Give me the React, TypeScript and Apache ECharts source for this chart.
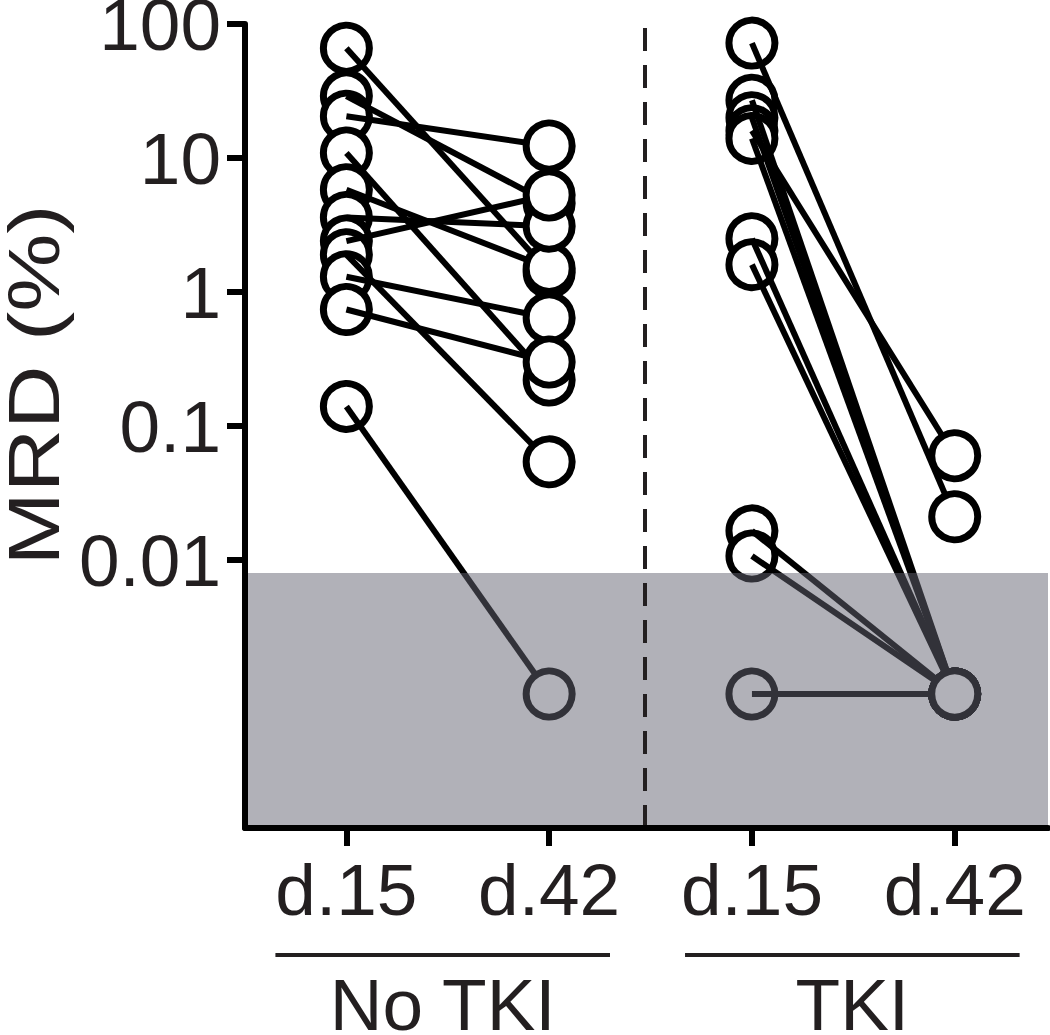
import React, { useEffect, useRef } from "react";
import * as echarts from "echarts";

// ---- data ----
const xPositions = [1, 2, 3, 4];
const xLabels = ["d.15", "d.42", "d.15", "d.42"];
const groupLabels = ["No TKI", "TKI"];
const yTitle = "MRD (%)";
const yTickValues = [0.01, 0.1, 1, 10, 100];
const yTickLabels = ["0.01", "0.1", "1", "10", "100"];

// paired values per patient (d.15 -> d.42), MRD %
const noTkiD15 = [66, 29, 20.5, 10.9, 5.8, 3.6, 2.4, 1.9, 1.3, 0.74, 0.14];
const noTkiD42 = [1.4, 4.6, 12.3, 0.22, 1.5, 3.1, 5.3, 0.054, 0.64, 0.3, 0.001];
const tkiD15 = [72, 27, 20, 16, 14, 2.5, 1.6, 0.0165, 0.0107, 0.001];
const tkiD42 = [0.021, 0.001, 0.001, 0.06, 0.001, 0.001, 0.001, 0.001, 0.001, 0.001];

const detectionLimit = 0.008;
const yMin = 0.0001;
const yMax = 100;

const FONT = "'Liberation Sans', Arial, Helvetica, sans-serif";
const TEXT = "#231f20";

export default function App() {
  const ref = useRef<HTMLDivElement>(null);

  useEffect(() => {
    if (!ref.current) return;
    const chart = echarts.init(ref.current, null, { renderer: "svg" });

    const pairSeries: any[] = [];
    const addPairs = (a: number[], b: number[], xa: number, xb: number) => {
      a.forEach((v, i) => {
        pairSeries.push({
          type: "line",
          data: [
            [xa, v],
            [xb, b[i]],
          ],
          showSymbol: false,
          symbol: "none",
          lineStyle: { color: "#000", width: 6, opacity: 1 },
          z: 3,
          silent: true,
        });
      });
    };
    addPairs(noTkiD15, noTkiD42, xPositions[0], xPositions[1]);
    addPairs(tkiD15, tkiD42, xPositions[2], xPositions[3]);

    const circleStyle = { color: "#fff", borderColor: "#000", borderWidth: 7, opacity: 1 };
    const scatterD15 = {
      type: "scatter",
      data: [
        ...noTkiD15.map((v) => [xPositions[0], v]),
        ...tkiD15.map((v) => [xPositions[2], v]),
      ],
      symbol: "circle",
      symbolSize: 46,
      itemStyle: circleStyle,
      z: 2,
      silent: true,
    };
    const scatterD42 = {
      type: "scatter",
      data: [
        ...noTkiD42.map((v) => [xPositions[1], v]),
        ...tkiD42.map((v) => [xPositions[3], v]),
      ],
      symbol: "circle",
      symbolSize: 46,
      itemStyle: circleStyle,
      z: 4,
      silent: true,
    };

    const overlay = {
      type: "line",
      data: [],
      z: 5,
      silent: true,
      markArea: {
        z: 20,
        silent: true,
        label: { show: false },
        itemStyle: { color: "rgba(100,100,114,0.5)" },
        data: [[{ yAxis: yMin }, { yAxis: detectionLimit }]],
      },
    };

    const divider = {
      type: "line",
      data: [],
      z: 6,
      silent: true,
      markLine: {
        z: 25,
        silent: true,
        symbol: ["none", "none"],
        label: { show: false },
        lineStyle: { type: [23, 14], width: 4, color: TEXT },
        data: [{ xAxis: 2.47 }],
      },
    };

    const fmtY = (v: number) => {
      const idx = yTickValues.findIndex((t) => Math.abs(Math.log10(t) - Math.log10(v)) < 1e-6);
      return idx >= 0 ? yTickLabels[idx] : "";
    };

    chart.setOption({
      animation: false,
      grid: {
        left: 245,
        right: 2,
        top: 24,
        bottom: 207,
        containLabel: false,
        outerBoundsMode: "none",
      },
      xAxis: {
        type: "value",
        min: 0.5,
        max: 4.46,
        z: 30,
        axisLine: { show: true, onZero: false, lineStyle: { color: "#000", width: 6 } },
        axisTick: {
          show: true,
          customValues: xPositions,
          length: 18,
          lineStyle: { color: "#000", width: 6 },
        },
        axisLabel: {
          customValues: xPositions,
          formatter: (v: number) => xLabels[Math.round(v) - 1] || "",
          fontSize: 73,
          fontFamily: FONT,
          color: TEXT,
          margin: 25,
        },
        splitLine: { show: false },
      },
      yAxis: {
        type: "log",
        logBase: 10,
        min: yMin,
        max: yMax,
        z: 30,
        axisLine: { show: true, lineStyle: { color: "#000", width: 6 } },
        axisTick: {
          show: true,
          customValues: yTickValues,
          length: 18,
          lineStyle: { color: "#000", width: 6 },
        },
        axisLabel: {
          customValues: yTickValues,
          formatter: (v: number) => fmtY(v),
          fontSize: 73,
          fontFamily: FONT,
          color: TEXT,
          margin: 24,
        },
        splitLine: { show: false },
        minorTick: { show: false },
      },
      series: [scatterD15, ...pairSeries, scatterD42, overlay, divider],
    });

    const px = (x: number) => chart.convertToPixel({ xAxisIndex: 0 }, x) as number;
    const brackets = [
      [0.65, 2.3],
      [2.67, 4.32],
    ];
    const graphics: any[] = [];
    brackets.forEach((b, i) => {
      graphics.push({
        type: "line",
        shape: { x1: px(b[0]), y1: 955, x2: px(b[1]), y2: 955 },
        style: { stroke: TEXT, lineWidth: 4 },
        silent: true,
      });
      graphics.push({
        type: "text",
        x: px((b[0] + b[1]) / 2),
        y: 1004,
        style: {
          text: groupLabels[i],
          font: `73px ${FONT}`,
          fill: TEXT,
          textAlign: "center",
          textVerticalAlign: "middle",
          align: "center",
          verticalAlign: "middle",
        },
        silent: true,
      });
    });
    graphics.push({
      type: "text",
      x: 34,
      y: 385,
      rotation: Math.PI / 2,
      scaleX: 1.22,
      style: {
        text: yTitle,
        font: `72px ${FONT}`,
        fill: TEXT,
        textAlign: "center",
        textVerticalAlign: "middle",
        align: "center",
        verticalAlign: "middle",
      },
      silent: true,
    });
    chart.setOption({ graphic: graphics });

    return () => chart.dispose();
  }, []);

  return (
    <div
      ref={ref}
      style={{ position: "fixed", left: 0, top: 0, width: 1050, height: 1035, background: "#fff" }}
    />
  );
}
